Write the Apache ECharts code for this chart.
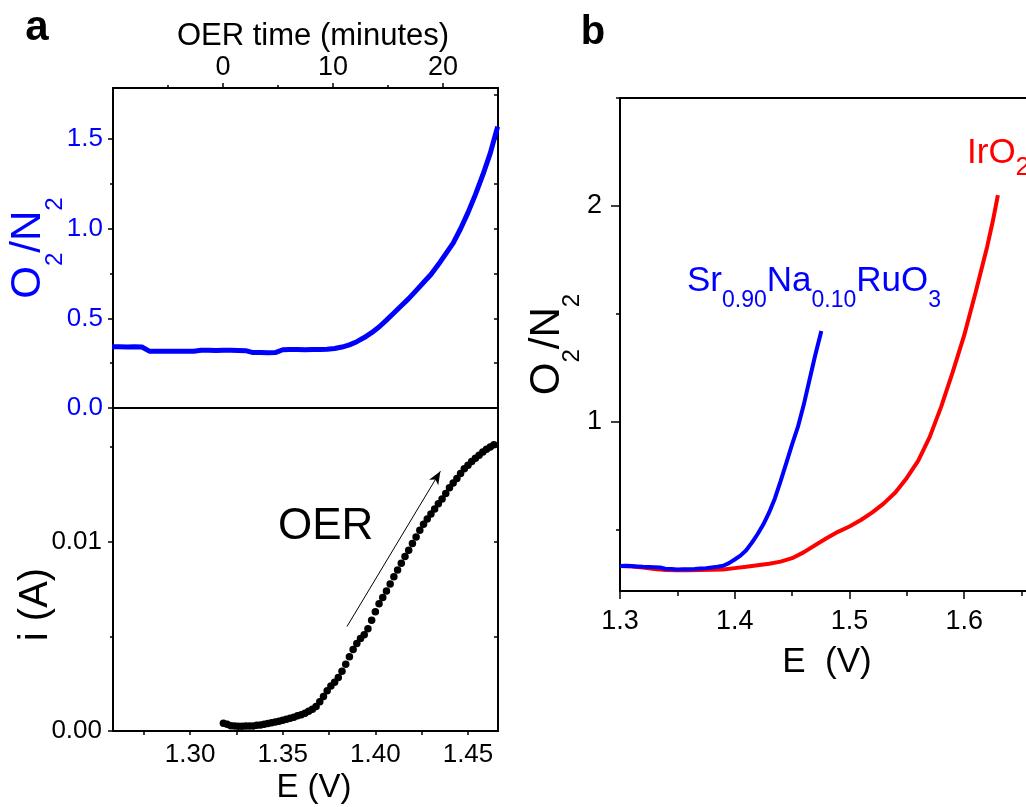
<!DOCTYPE html>
<html><head><meta charset="utf-8">
<script src="https://cdn.jsdelivr.net/npm/echarts@6/dist/echarts.min.js"></script>
<style>html,body{margin:0;padding:0;background:#fff}#c{width:1026px;height:807px}</style>
</head><body><div id="c"></div>
<script>
// ---------- DATA ----------
// Panel a (top): O2/N2 vs E
const aTopE = [1.258,1.262,1.266,1.270,1.274,1.278,1.282,1.286,1.290,1.294,1.298,1.302,1.306,1.310,1.314,1.318,1.322,1.326,1.330,1.334,1.338,1.342,1.346,1.350,1.354,1.358,1.362,1.366,1.370,1.374,1.378,1.382,1.386,1.390,1.394,1.398,1.402,1.406,1.410,1.414,1.418,1.422,1.426,1.430,1.434,1.438,1.442,1.446,1.450,1.454,1.458,1.462,1.466];
const aTopRatio = [0.341,0.341,0.340,0.341,0.340,0.317,0.317,0.316,0.317,0.317,0.316,0.317,0.322,0.322,0.321,0.322,0.322,0.321,0.320,0.309,0.309,0.308,0.309,0.325,0.326,0.326,0.325,0.326,0.327,0.328,0.332,0.340,0.352,0.370,0.393,0.420,0.452,0.490,0.530,0.570,0.610,0.655,0.700,0.745,0.800,0.860,0.920,1.000,1.090,1.190,1.300,1.420,1.570];
// Panel a (bottom): current i (A) vs E
const aCurE = [1.318,1.320,1.322,1.324,1.326,1.328,1.330,1.332,1.334,1.336,1.338,1.340,1.342,1.344,1.346,1.348,1.350,1.352,1.354,1.356,1.358,1.360,1.362,1.364,1.366,1.368,1.370,1.372,1.374,1.376,1.378,1.380,1.382,1.384,1.386,1.388,1.390,1.392,1.394,1.396,1.398,1.400,1.402,1.404,1.406,1.408,1.410,1.412,1.414,1.416,1.418,1.420,1.422,1.424,1.426,1.428,1.430,1.432,1.434,1.436,1.438,1.440,1.442,1.444,1.446,1.448,1.450,1.452,1.454,1.456,1.458,1.460,1.462,1.464];
const aCurI = [0.00041,0.00035,0.00028,0.00026,0.00025,0.00025,0.00026,0.00026,0.00027,0.00030,0.00032,0.00035,0.00039,0.00043,0.00047,0.00052,0.00057,0.00062,0.00067,0.00073,0.00080,0.00086,0.00094,0.00104,0.00115,0.00130,0.00155,0.00182,0.00212,0.00238,0.00258,0.00282,0.00315,0.00352,0.00392,0.00430,0.00462,0.00488,0.00508,0.00540,0.00585,0.00630,0.00672,0.00705,0.00740,0.00776,0.00815,0.00850,0.00886,0.00922,0.00955,0.00990,0.01025,0.01060,0.01092,0.01120,0.01146,0.01172,0.01200,0.01226,0.01254,0.01285,0.01310,0.01333,0.01360,0.01385,0.01404,0.01424,0.01440,0.01457,0.01473,0.01488,0.01500,0.01512];
const arrowFrom = [1.3847, 0.00552];
const arrowTo = [1.4351, 0.01372];
// Panel b
const bSrE = [1.300,1.305,1.310,1.315,1.320,1.325,1.330,1.335,1.340,1.345,1.350,1.355,1.360,1.365,1.370,1.375,1.380,1.385,1.390,1.395,1.400,1.405,1.410,1.415,1.420,1.425,1.430,1.435,1.440,1.445,1.450,1.455,1.460,1.465,1.470,1.4755];
const bSrRatio = [0.332,0.333,0.332,0.330,0.328,0.327,0.326,0.325,0.318,0.318,0.316,0.317,0.317,0.318,0.320,0.322,0.325,0.328,0.333,0.345,0.362,0.380,0.405,0.440,0.480,0.525,0.580,0.645,0.725,0.810,0.895,0.975,1.075,1.190,1.305,1.420];
const bIrE = [1.300,1.310,1.320,1.330,1.340,1.350,1.360,1.370,1.380,1.390,1.400,1.410,1.420,1.430,1.440,1.450,1.460,1.470,1.480,1.490,1.500,1.510,1.520,1.530,1.540,1.550,1.560,1.570,1.580,1.590,1.600,1.610,1.620,1.625,1.6294];
const bIrRatio = [0.332,0.330,0.325,0.318,0.313,0.312,0.312,0.313,0.314,0.316,0.322,0.328,0.335,0.342,0.352,0.368,0.395,0.428,0.460,0.490,0.515,0.545,0.580,0.622,0.672,0.740,0.820,0.930,1.070,1.230,1.400,1.600,1.810,1.930,2.050];
// Ticks
const timeMajor = [0, 10, 20];
const timeMinor = [-5, 5, 15];
const aETicks = [1.275, 1.30, 1.325, 1.35, 1.375, 1.40, 1.425, 1.45];
const aELabels = [1.30, 1.35, 1.40, 1.45];
const aRatioMajor = [0, 0.5, 1.0, 1.5];
const aRatioMinor = [0.25, 0.75, 1.25];
const aRatioRight = [0.25, 0.5, 0.75, 1.0, 1.25, 1.5, 1.75];
const aCurMajor = [0, 0.01];
const aCurMinor = [0.005, 0.015];
const aCurRight = [0.005, 0.01, 0.015];
const bEMajor = [1.3, 1.4, 1.5, 1.6];
const bEMinor = [1.35, 1.45, 1.55, 1.65];
const bRatioMajor = [1, 2];
const bRatioMinor = [0.5, 1.5, 2.5];

// ---------- CHART ----------
const FONT = "'Liberation Sans', Arial, sans-serif";
const BLUE = '#0000ff', RED = '#ff0000', BLACK = '#000000';
const pairs = (xs, ys) => xs.map((x, i) => [x, ys[i]]);
const line = (w) => ({ show: true, onZero: false, lineStyle: { color: BLACK, width: w } });
const noLabel = { show: false };
const noSplit = { show: false };

function tickAx(base, vals, len, inside) {
  return Object.assign({
    type: 'value', axisLine: { show: false, onZero: false }, splitLine: noSplit, axisLabel: noLabel,
    axisTick: { show: true, inside: !!inside, length: len, customValues: vals, lineStyle: { color: BLACK, width: 1.5 } }
  }, base);
}

const chart = echarts.init(document.getElementById('c'));
const option = {
  animation: false,
  backgroundColor: '#ffffff',
  grid: [
    { left: 113, top: 88, width: 385, height: 320 },
    { left: 113, top: 408, width: 385, height: 323 },
    { left: 620, top: 98, width: 420, height: 493 }
  ],
  xAxis: [
    { gridIndex: 0, type: 'value', position: 'bottom', min: 1.2584, max: 1.4662, axisLine: line(2), axisTick: { show: false }, axisLabel: noLabel, splitLine: noSplit },
    { gridIndex: 0, type: 'value', position: 'top', min: -10, max: 25,
      name: 'OER time (minutes)', nameLocation: 'middle', nameGap: 36, nameMoveOverlap: false,
      nameTextStyle: { fontSize: 31, lineHeight: 31, fontFamily: FONT, color: BLACK, padding: [0, 0, 0, 15] },
      axisLine: line(2), splitLine: noSplit,
      axisTick: { show: true, length: 5, customValues: timeMajor, lineStyle: { color: BLACK, width: 1.5 } },
      axisLabel: { customValues: timeMajor, fontSize: 27, fontFamily: FONT, color: BLACK, margin: 7 } },
    tickAx({ gridIndex: 0, position: 'top', min: -10, max: 25 }, timeMinor, 3),
    { gridIndex: 1, type: 'value', position: 'bottom', min: 1.2584, max: 1.4662,
      name: 'E (V)', nameLocation: 'middle', nameGap: 40, nameMoveOverlap: false,
      nameTextStyle: { fontSize: 33, lineHeight: 33, fontFamily: FONT, color: BLACK, padding: [0, 0, 0, 17] },
      axisLine: line(2), splitLine: noSplit,
      axisTick: { show: true, length: 4, customValues: aETicks, lineStyle: { color: BLACK, width: 1.5 } },
      axisLabel: { customValues: aELabels, formatter: v => v.toFixed(2), fontSize: 26, fontFamily: FONT, color: BLACK, margin: 11 } },
    { gridIndex: 2, type: 'value', position: 'bottom', min: 1.3, max: 1.6539,
      name: 'E  (V)', nameLocation: 'middle', nameGap: 54, nameMoveOverlap: false,
      nameTextStyle: { fontSize: 35, lineHeight: 35, fontFamily: FONT, color: BLACK, padding: [0, 0, 0, 8] },
      axisLine: line(2), splitLine: noSplit,
      axisTick: { show: true, length: 8, customValues: bEMajor, lineStyle: { color: BLACK, width: 1.5 } },
      axisLabel: { customValues: bEMajor, formatter: v => v.toFixed(1), fontSize: 27, fontFamily: FONT, color: BLACK, margin: 17 } },
    tickAx({ gridIndex: 2, position: 'bottom', min: 1.3, max: 1.6539 }, bEMinor, 5),
    { gridIndex: 2, type: 'value', position: 'top', min: 1.3, max: 1.6539, axisLine: line(2), axisTick: { show: false }, axisLabel: noLabel, splitLine: noSplit }
  ],
  yAxis: [
    { gridIndex: 0, type: 'value', position: 'left', min: 0, max: 1.785,
      name: '{m|O}{s|2}{m|/N}{s|2}', nameLocation: 'middle', nameGap: 46, nameRotate: 90, nameMoveOverlap: false,
      nameTextStyle: { color: BLUE, fontFamily: FONT, rich: {
        m: { fontSize: 42, lineHeight: 78, color: BLUE, fontFamily: FONT },
        s: { fontSize: 24, lineHeight: 24, color: BLUE, fontFamily: FONT, verticalAlign: 'bottom' } } },
      axisLine: line(2), splitLine: noSplit,
      axisTick: { show: true, length: 5, customValues: aRatioMajor, lineStyle: { color: BLACK, width: 1.5 } },
      axisLabel: { customValues: aRatioMajor, formatter: v => v.toFixed(1), fontSize: 26, fontFamily: FONT, color: BLUE, margin: 10 } },
    tickAx({ gridIndex: 0, position: 'left', min: 0, max: 1.785 }, aRatioMinor, 3),
    { gridIndex: 0, type: 'value', position: 'right', min: 0, max: 1.785, axisLine: line(2), splitLine: noSplit, axisLabel: noLabel,
      axisTick: { show: true, inside: true, length: 4, customValues: aRatioRight, lineStyle: { color: BLACK, width: 1.5 } } },
    { gridIndex: 1, type: 'value', position: 'left', min: 0, max: 0.01706,
      name: 'i (A)', nameLocation: 'middle', nameGap: 57, nameRotate: 90, nameMoveOverlap: false,
      nameTextStyle: { fontSize: 40, lineHeight: 40, fontFamily: FONT, color: BLACK, padding: [0, 70, 0, 0] },
      axisLine: line(2), splitLine: noSplit,
      axisTick: { show: true, length: 5, customValues: aCurMajor, lineStyle: { color: BLACK, width: 1.5 } },
      axisLabel: { customValues: aCurMajor, formatter: v => v.toFixed(2), fontSize: 26, fontFamily: FONT, color: BLACK, margin: 11 } },
    tickAx({ gridIndex: 1, position: 'left', min: 0, max: 0.01706 }, aCurMinor, 3),
    { gridIndex: 1, type: 'value', position: 'right', min: 0, max: 0.01706, axisLine: line(2), splitLine: noSplit, axisLabel: noLabel,
      axisTick: { show: true, inside: true, length: 4, customValues: aCurRight, lineStyle: { color: BLACK, width: 1.5 } } },
    { gridIndex: 2, type: 'value', position: 'left', min: 0.216, max: 2.5,
      name: '{m|O}{s|2}{m|/N}{s|2}', nameLocation: 'middle', nameGap: 36, nameRotate: 90, nameMoveOverlap: false,
      nameTextStyle: { color: BLACK, fontFamily: FONT, rich: {
        m: { fontSize: 42, lineHeight: 73, color: BLACK, fontFamily: FONT },
        s: { fontSize: 24, lineHeight: 24, color: BLACK, fontFamily: FONT, verticalAlign: 'bottom' } } },
      axisLine: line(2), splitLine: noSplit,
      axisTick: { show: true, length: 9, customValues: bRatioMajor, lineStyle: { color: BLACK, width: 1.5 } },
      axisLabel: { customValues: bRatioMajor, fontSize: 27, fontFamily: FONT, color: BLACK, margin: 18 } },
    tickAx({ gridIndex: 2, position: 'left', min: 0.216, max: 2.5 }, bRatioMinor, 4)
  ],
  series: [
    { type: 'line', xAxisIndex: 0, yAxisIndex: 0, data: pairs(aTopE, aTopRatio), showSymbol: false, symbol: 'none',
      lineStyle: { color: BLUE, width: 5 }, itemStyle: { color: BLUE } },
    { type: 'scatter', xAxisIndex: 3, yAxisIndex: 3, data: pairs(aCurE, aCurI), symbol: 'circle', symbolSize: 7.5,
      itemStyle: { color: BLACK, opacity: 1 },
      markLine: { silent: true, symbol: ['none', 'arrow'], symbolSize: [8, 13], label: { show: false },
        lineStyle: { color: BLACK, width: 1, type: 'solid' },
        data: [[{ coord: arrowFrom }, { coord: arrowTo }]] } },
    { type: 'line', xAxisIndex: 4, yAxisIndex: 6, data: pairs(bIrE, bIrRatio), showSymbol: false, symbol: 'none',
      lineStyle: { color: RED, width: 4 }, itemStyle: { color: RED } },
    { type: 'line', xAxisIndex: 4, yAxisIndex: 6, data: pairs(bSrE, bSrRatio), showSymbol: false, symbol: 'none',
      lineStyle: { color: BLUE, width: 4 }, itemStyle: { color: BLUE } }
  ],
  graphic: [
    { type: 'text', x: 37, y: 28, style: { text: 'a', font: 'bold 42px ' + FONT, fill: BLACK, align: 'center', verticalAlign: 'middle' } },
    { type: 'text', x: 593, y: 33, style: { text: 'b', font: 'bold 40px ' + FONT, fill: BLACK, align: 'center', verticalAlign: 'middle' } },
    { type: 'text', x: 278, y: 527, style: { text: 'OER', font: '44px ' + FONT, fill: BLACK, align: 'left', verticalAlign: 'middle' } },
    { type: 'text', x: 967, y: 153, style: { text: '{m|IrO}{s|2}', align: 'left', verticalAlign: 'middle', fill: RED,
      rich: { m: { fontSize: 35, lineHeight: 55, fontFamily: FONT, fill: RED },
              s: { fontSize: 26, lineHeight: 26, fontFamily: FONT, fill: RED, verticalAlign: 'bottom' } } } },
    { type: 'text', x: 687, y: 281, style: { text: '{m|Sr}{s|0.90}{m|Na}{s|0.10}{m|RuO}{s|3}', align: 'left', verticalAlign: 'middle', fill: BLUE,
      rich: { m: { fontSize: 35, lineHeight: 62, fontFamily: FONT, fill: BLUE },
              s: { fontSize: 23, lineHeight: 23, fontFamily: FONT, fill: BLUE, verticalAlign: 'bottom' } } } }
  ]
};
chart.setOption(option);
</script></body></html>
